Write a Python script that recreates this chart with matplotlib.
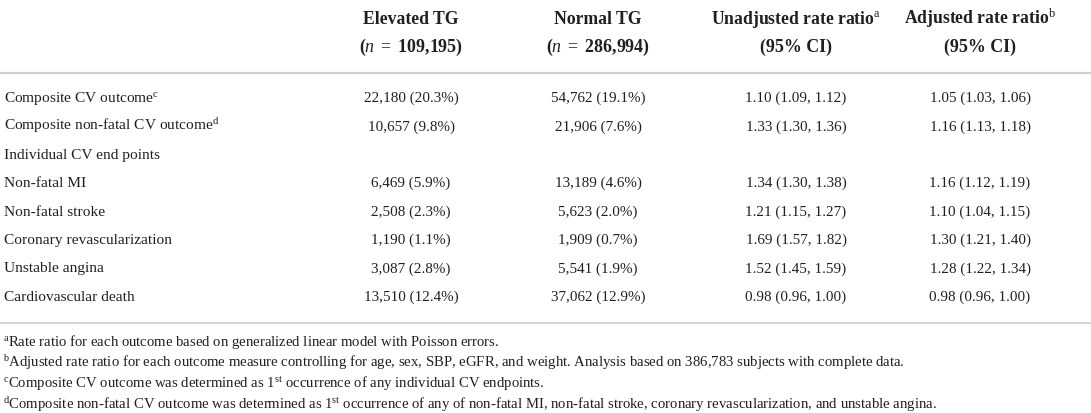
import matplotlib.pyplot as plt

plt.rcParams['font.family'] = ['Liberation Serif', 'DejaVu Serif']
plt.rcParams['mathtext.fontset'] = 'custom'
plt.rcParams['mathtext.rm'] = 'Liberation Serif'
plt.rcParams['mathtext.it'] = 'Liberation Serif:italic'
plt.rcParams['mathtext.bf'] = 'Liberation Serif:bold'

# table data
outcomes = [r"Composite CV outcome$^{\mathrm{c}}$",
            r"Composite non-fatal CV outcome$^{\mathrm{d}}$",
            "Individual CV end points",
            "Non-fatal MI",
            "Non-fatal stroke",
            "Coronary revascularization",
            "Unstable angina",
            "Cardiovascular death"]
elevated_n = [22180, 10657, None, 6469, 2508, 1190, 3087, 13510]
elevated_pct = [20.3, 9.8, None, 5.9, 2.3, 1.1, 2.8, 12.4]
normal_n = [54762, 21906, None, 13189, 5623, 1909, 5541, 37062]
normal_pct = [19.1, 7.6, None, 4.6, 2.0, 0.7, 1.9, 12.9]
unadjusted = [(1.10, 1.09, 1.12), (1.33, 1.30, 1.36), None, (1.34, 1.30, 1.38),
              (1.21, 1.15, 1.27), (1.69, 1.57, 1.82), (1.52, 1.45, 1.59),
              (0.98, 0.96, 1.00)]
adjusted = [(1.05, 1.03, 1.06), (1.16, 1.13, 1.18), None, (1.16, 1.12, 1.19),
            (1.10, 1.04, 1.15), (1.30, 1.21, 1.40), (1.28, 1.22, 1.34),
            (0.98, 0.96, 1.00)]

headers_1 = ["Elevated TG", "Normal TG",
             r"Unadjusted rate ratio$^{\mathrm{a}}$", r"Adjusted rate ratio$^{\mathrm{b}}$"]
headers_2 = [r"$\mathbf{(}\mathit{n}\ =\ \mathbf{109{,}195)}$",
             r"$\mathbf{(}\mathit{n}\ =\ \mathbf{286{,}994)}$",
             "(95% CI)", "(95% CI)"]

footnotes = [
    r"$^{\mathrm{a}}$Rate ratio for each outcome based on generalized linear model with Poisson errors.",
    r"$^{\mathrm{b}}$Adjusted rate ratio for each outcome measure controlling for age, sex, SBP, eGFR, and weight. Analysis based on 386,783 subjects with complete data.",
    r"$^{\mathrm{c}}$Composite CV outcome was determined as 1$^{\mathrm{st}}$ occurrence of any individual CV endpoints.",
    r"$^{\mathrm{d}}$Composite non-fatal CV outcome was determined as 1$^{\mathrm{st}}$ occurrence of any of non-fatal MI, non-fatal stroke, coronary revascularization, and unstable angina.",
]


def fmt_count(n, p):
    if n is None:
        return ""
    return f"{n:,} ({p:.1f}%)"


def fmt_ratio(r):
    if r is None:
        return ""
    return f"{r[0]:.2f} ({r[1]:.2f}, {r[2]:.2f})"


W, H = 1091, 413
fig = plt.figure(figsize=(W / 100, H / 100), dpi=100)
ax = fig.add_axes([0, 0, 1, 1])
ax.set_xlim(0, W)
ax.set_ylim(H, 0)
ax.axis('off')

txt = '#231f20'
col_x = [411, 598, 796, 980]
label_x = 4
row_y0, row_step = 102, 28.4

# header
for x, h1, h2 in zip(col_x, headers_1, headers_2):
    ax.text(x, 24, h1, ha='center', va='baseline', fontsize=12.7,
            fontweight='bold', color=txt)
    ax.text(x, 52, h2, ha='center', va='baseline', fontsize=12.9,
            fontweight='bold', color=txt)

ax.axhline(72.5, color='#cfcfcf', lw=1.6)

# body rows
for i, label in enumerate(outcomes):
    y = row_y0 + i * row_step
    ax.text(label_x, y, label, ha='left', va='baseline', fontsize=11.1, color=txt)
    cells = [fmt_count(elevated_n[i], elevated_pct[i]),
             fmt_count(normal_n[i], normal_pct[i]),
             fmt_ratio(unadjusted[i]),
             fmt_ratio(adjusted[i])]
    for x, c in zip(col_x, cells):
        ax.text(x, y, c, ha='center', va='baseline', fontsize=10.9, color=txt)

ax.axhline(323, color='#cfcfcf', lw=1.2)

# footnotes
for j, note in enumerate(footnotes):
    ax.text(3, 346 + j * 21, note, ha='left', va='baseline', fontsize=10.6, color=txt)

fig.savefig('out.png', dpi=100)
